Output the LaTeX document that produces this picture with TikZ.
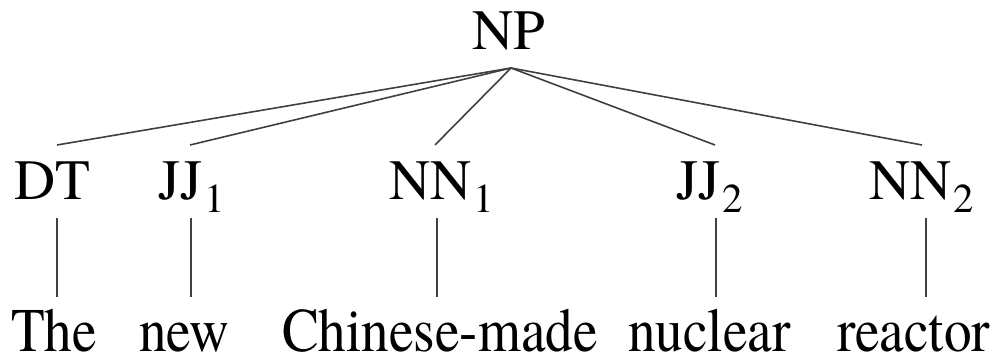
\documentclass[tikz,border=0pt]{standalone}
\usepackage{fontspec}
\setmainfont{texgyretermes}[Extension=.otf,UprightFont=*-regular]
\newfontfamily\wordfont{texgyretermes}[Extension=.otf,UprightFont=*-regular,FakeStretch=0.89]
\newcommand{\sbs}[1]{\kern2pt\raisebox{-13pt}{\fontsize{41}{41}\selectfont #1}}
\begin{document}
\begin{tikzpicture}[x=1pt,y=1pt,
  tag/.style={inner sep=0pt,outer sep=0pt,font=\fontsize{57}{57}\selectfont},
  roottag/.style={inner sep=0pt,outer sep=0pt,font=\fontsize{57}{57}\selectfont},
  word/.style={inner sep=0pt,outer sep=0pt,font=\wordfont\fontsize{62}{62}\selectfont},
  branch/.style={draw=black!75,line width=1.6pt}]
\useasboundingbox (0,0) rectangle (997,356);

% root
\node[roottag,anchor=base] (np) at (508.5,306) {NP};
\coordinate (npfoot) at (511,288);

% preterminal tags
\node[tag,anchor=base west] (dt)  at (14,156)  {DT};
\node[tag,anchor=base west] (jj1) at (158,156) {JJ\sbs{1}};
\node[tag,anchor=base west] (nn1) at (389,156) {NN\sbs{1}};
\node[tag,anchor=base west] (jj2) at (676,156) {JJ\sbs{2}};
\node[tag,anchor=base west] (nn2) at (869,156) {NN\sbs{2}};

% words
\node[word,anchor=base west] (w1) at (11,4)  {The};
\node[word,anchor=base west] (w2) at (139,4) {new};
\node[word,anchor=base west] (w3) at (282,4) {Chinese-made};
\node[word,anchor=base west] (w4) at (628,4) {nuclear};
\node[word,anchor=base west] (w5) at (837,4) {reactor};

% branch ends above the tags
\coordinate (dttop)  at (57,211);
\coordinate (jj1top) at (190,211);
\coordinate (nn1top) at (435,211);
\coordinate (jj2top) at (715,211);
\coordinate (nn2top) at (922,211);

% branch ends between tags and words
\coordinate (dtlow)  at (57,138);  \coordinate (w1top) at (57,59);
\coordinate (jj1low) at (191,138); \coordinate (w2top) at (191,59);
\coordinate (nn1low) at (437,138); \coordinate (w3top) at (437,59);
\coordinate (jj2low) at (716,138); \coordinate (w4top) at (716,59);
\coordinate (nn2low) at (926,138); \coordinate (w5top) at (926,59);

% NP to its daughters
\foreach \t in {dttop,jj1top,nn1top,jj2top,nn2top}
  \draw[branch] (npfoot) -- (\t);

% tags to words
\draw[branch] (dtlow) -- (w1top);
\draw[branch] (jj1low) -- (w2top);
\draw[branch] (nn1low) -- (w3top);
\draw[branch] (jj2low) -- (w4top);
\draw[branch] (nn2low) -- (w5top);
\end{tikzpicture}
\end{document}
